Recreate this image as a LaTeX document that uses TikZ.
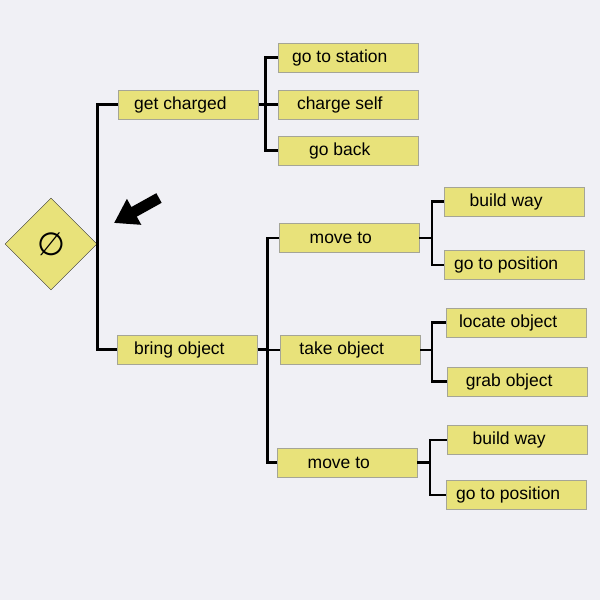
\documentclass[tikz,border=0pt]{standalone}
\usepackage{fontspec}
\setmainfont{Liberation Sans}
\newfontfamily\symbolfont{DejaVu Sans}
\usetikzlibrary{shapes.geometric,positioning,arrows.meta}
\definecolor{TaskYellow}{RGB}{232,226,122}
\definecolor{TaskEdge}{RGB}{165,165,150}
\definecolor{PageGrey}{RGB}{240,240,245}
\tikzset{
	task/.style={draw=TaskEdge,fill=TaskYellow,minimum width=140pt,minimum height=29pt,inner sep=0pt,font=\fontsize{17.5}{20}\selectfont,execute at begin node={\hspace*{-16pt}}},
	goalbox/.style={diamond,draw=black!80,fill=TaskYellow,minimum width=92pt,minimum height=92pt,inner sep=0pt},
	link/.style={draw=black,line width=2.6pt},
	pointer/.style={line width=11pt,-{Triangle[width=28pt,length=23pt]}}
}

\begin{document}
\begin{tikzpicture}[x=1pt,y=-1pt]
		\fill[PageGrey] (0,0) rectangle (600,600);
		\useasboundingbox (0,0) rectangle (600,600);
		\node[goalbox] (goal) at (51,244) {\symbolfont\fontsize{32}{32}\selectfont ∅};
		% first level
		\node[task,right=21pt of goal,yshift=139.5pt] (charged) {get charged};
		\node[task,right=20pt of goal,yshift=-105.5pt] (bring) {bring object};
		% get charged
		\node[task,right=19pt of charged,yshift=47pt] (station) {go to station};
		\node[task,right=19pt of charged] (chargeself) {charge self};
		\node[task,right=19pt of charged,yshift=-46pt] (goback) {go back};
		% bring object
		\node[task,right=21pt of bring,yshift=111.5pt] (moveA) {move to};
		\node[task,right=22pt of bring,yshift=-0.5pt] (take) {take object};
		\node[task,right=19pt of bring,yshift=-113pt] (moveB) {move to};
		\node[task,right=25pt of moveA,yshift=36.5pt] (wayA) {build way};
		\node[task,right=25pt of moveA,yshift=-27pt] (posA) {go to position};
		\node[task,right=26pt of take,yshift=27.5pt] (locate) {locate object};
		\node[task,right=27pt of take,yshift=-31.5pt] (grab) {grab object};
		\node[task,right=30pt of moveB,yshift=22.5pt] (wayB) {build way};
		\node[task,right=29pt of moveB,yshift=-32.5pt] (posB) {go to position};
		% connectors
		\draw[link] (charged.west) -| (goal.east) |- (bring.west);
		\draw[link] (charged.east) -- ++(7pt,0) coordinate (busA) |- (station.west) (busA) |- (chargeself.west) (busA) |- (goback.west);
		\draw[link] (bring.east) -- ++(10pt,0) coordinate (busB) |- (moveA.west) (busB) |- (take.west) (busB) |- (moveB.west);
		\draw[link] (moveA.east) -- ++(13pt,0) coordinate (busC) |- (wayA.west) (busC) |- (posA.west);
		\draw[link] (take.east) -- ++(12pt,0) coordinate (busD) |- (locate.west) (busD) |- (grab.west);
		\draw[link] (moveB.east) -- ++(13pt,0) coordinate (busE) |- (wayB.west) (busE) |- (posB.west);
		% pointer
		\coordinate (ptail) at (159,198);
		\coordinate (ptip) at (114,223);
		\draw[pointer] (ptail) -- (ptip);
\end{tikzpicture}
\end{document}
